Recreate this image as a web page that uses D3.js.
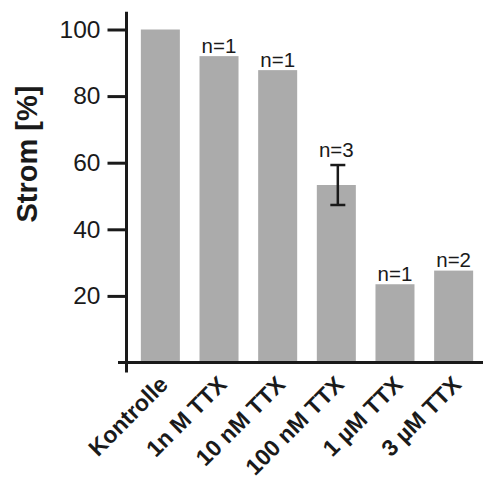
<!DOCTYPE html>
<html>
<head>
<meta charset="utf-8">
<script src="https://cdn.jsdelivr.net/npm/d3@7"></script>
<style>
    body { margin: 0; background: #fff; }
    svg { display: block; font-family: "Liberation Sans", Arial, sans-serif; }
</style>
</head>
<body>
<svg id="chart" width="483" height="482"></svg>
<script>
const categories = ['Kontrolle', '1n M TTX', '10 nM TTX', '100 nM TTX', '1 \u00b5M TTX', '3 \u00b5M TTX'];
const strom = [100, 92, 87.8, 53.3, 23.5, 27.6];
const fehler = [null, null, null, 6, null, null];
const nLabels = [null, 'n=1', 'n=1', 'n=3', 'n=1', 'n=2'];
const yTicks = [20, 40, 60, 80, 100];

const svg = d3.select('#chart');
const ink = '#1a1a1a';
const axisX = 126.5;

let x = d3.scaleBand()
    .domain(categories)
    .range([131, 483])
    .paddingInner(0.335)
    .paddingOuter(0.168);

let y = d3.scaleLinear()
    .domain([0, 100])
    .range([362.5, 29.5]);

// bars
svg.append('g')
    .selectAll('rect')
    .data(categories)
    .join('rect')
    .attr('x', function (d) { return x(d); })
    .attr('y', function (d, i) { return y(strom[i]); })
    .attr('width', x.bandwidth())
    .attr('height', function (d, i) { return y(0) - y(strom[i]); })
    .attr('fill', '#ababab');

// error bars
let err = svg.append('g').attr('stroke', ink).attr('stroke-width', 2.5);
categories.forEach(function (c, i) {
    if (fehler[i] == null) return;
    let cx = x(c) + x.bandwidth() / 2 + 1.5;
    let top = y(strom[i] + fehler[i]);
    let bot = y(strom[i] - fehler[i]);
    err.append('line').attr('x1', cx).attr('x2', cx).attr('y1', top).attr('y2', bot);
    err.append('line').attr('x1', cx - 7.5).attr('x2', cx + 7.5).attr('y1', top).attr('y2', top);
    err.append('line').attr('x1', cx - 7.5).attr('x2', cx + 7.5).attr('y1', bot).attr('y2', bot);
});

// n labels
svg.append('g')
    .selectAll('text')
    .data(categories)
    .join('text')
    .filter(function (d, i) { return nLabels[i] != null; })
    .attr('x', function (d) { return x(d) + x.bandwidth() / 2; })
    .attr('y', function (d) {
        let i = categories.indexOf(d);
        return fehler[i] != null ? y(strom[i] + fehler[i]) - 8 : y(strom[i]) - 3.5;
    })
    .attr('text-anchor', 'middle')
    .attr('font-size', 20.5)
    .attr('fill', ink)
    .text(function (d) { return nLabels[categories.indexOf(d)]; });

// y axis
let yAxis = svg.append('g')
    .attr('transform', 'translate(' + axisX + ',0)')
    .call(d3.axisLeft(y).tickValues(yTicks).tickSize(19).tickPadding(7));
yAxis.select('.domain').remove();
yAxis.selectAll('.tick line').attr('stroke', ink).attr('stroke-width', 3);
yAxis.selectAll('.tick text')
    .attr('font-size', 24.5)
    .attr('font-family', '"Liberation Sans", Arial, sans-serif')
    .attr('fill', ink);

svg.append('line')
    .attr('x1', axisX).attr('x2', axisX)
    .attr('y1', y(105.3)).attr('y2', y(0) + 10)
    .attr('stroke', ink).attr('stroke-width', 3);

// x axis
svg.append('line')
    .attr('x1', 118).attr('x2', 483)
    .attr('y1', y(0)).attr('y2', y(0))
    .attr('stroke', ink).attr('stroke-width', 3);

svg.append('g')
    .selectAll('text')
    .data(categories)
    .join('text')
    .attr('transform', function (d) {
        return 'translate(' + (x(d) + x.bandwidth() / 2 + 9) + ',' + 386 + ') rotate(-45)';
    })
    .attr('text-anchor', 'end')
    .attr('font-size', 23)
    .attr('font-weight', 'bold')
    .attr('fill', ink)
    .text(function (d) { return d; });

// y label
svg.append('text')
    .attr('transform', 'translate(37,154) rotate(-90)')
    .attr('text-anchor', 'middle')
    .attr('font-size', 29)
    .attr('font-weight', 'bold')
    .attr('fill', ink)
    .text('Strom [%]');
</script>
</body>
</html>
